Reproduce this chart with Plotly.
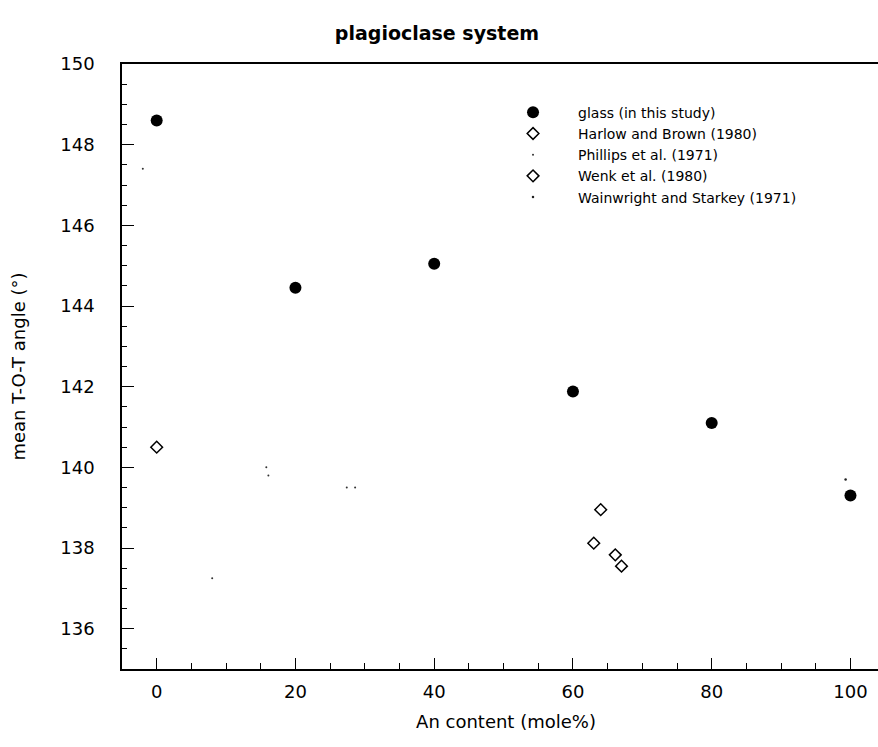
import plotly.graph_objects as go

# ---- data ----
glass_x = [0, 20, 40, 60, 80, 100]
glass_y = [148.6, 144.45, 145.05, 141.88, 141.1, 139.3]

harlow_x = [0]
harlow_y = [140.5]

phillips_x = [-2, 8, 15.8, 16.1, 27.4, 28.6]
phillips_y = [147.4, 137.25, 140.0, 139.8, 139.5, 139.5]

wenk_x = [64.0, 63.0, 66.1, 67.0]
wenk_y = [138.95, 138.12, 137.83, 137.55]

wainwright_x = [99.3]
wainwright_y = [139.7]

x_ticks = [0, 20, 40, 60, 80, 100]
y_ticks = [136, 138, 140, 142, 144, 146, 148, 150]

FONT = "DejaVu Sans, Liberation Sans, Arial, sans-serif"

fig = go.Figure()
fig.add_trace(go.Scatter(x=glass_x, y=glass_y, mode="markers", name="glass (in this study)",
                         marker=dict(symbol="circle", size=12, color="black")))
fig.add_trace(go.Scatter(x=harlow_x, y=harlow_y, mode="markers", name="Harlow and Brown (1980)",
                         marker=dict(symbol="diamond-open", size=9, color="black",
                                     line=dict(width=1.5, color="black"))))
fig.add_trace(go.Scatter(x=phillips_x, y=phillips_y, mode="markers", name="Phillips et al. (1971)",
                         marker=dict(symbol="circle", size=2, color="#333333")))
fig.add_trace(go.Scatter(x=wenk_x, y=wenk_y, mode="markers", name="Wenk et al. (1980)",
                         marker=dict(symbol="diamond-open", size=9, color="black",
                                     line=dict(width=1.5, color="black"))))
fig.add_trace(go.Scatter(x=wainwright_x, y=wainwright_y, mode="markers", name="Wainwright and Starkey (1971)",
                         marker=dict(symbol="circle", size=2.5, color="#222222",
                                     line=dict(width=0))))

# The figure is a little wider than the 878px window so that the plot box's
# right edge falls outside the view (the original shows no right-hand border).
fig.update_layout(
    width=890, height=747,
    paper_bgcolor="white", plot_bgcolor="white",
    margin=dict(l=122, r=0, t=64, b=78, autoexpand=False),
    font=dict(family=FONT, size=18, color="black"),
    title=dict(text="<b>plagioclase system</b>", x=0.491, xanchor="center", y=0.956, yanchor="middle",
               font=dict(family=FONT, size=19, color="black")),
    showlegend=True,
    legend=dict(x=0.4766, y=0.946, xanchor="left", yanchor="top",
                bgcolor="rgba(0,0,0,0)", borderwidth=0,
                font=dict(family=FONT, size=14, color="black"),
                itemwidth=80, tracegroupgap=0, itemsizing="trace"),
)

fig.update_xaxes(
    range=[-5, 105.7], showgrid=False, zeroline=False, automargin=False,
    showline=True, linecolor="black", linewidth=1.5, mirror=True,
    tickmode="array", tickvals=x_ticks, ticktext=[str(v) for v in x_ticks],
    ticks="inside", ticklen=11, tickwidth=1.2, tickcolor="black",
    minor=dict(ticks="inside", ticklen=6, tickwidth=1, tickcolor="black", dtick=5, tick0=0),
    ticklabelstandoff=6,
    title=dict(text="An content (mole%)", font=dict(size=18), standoff=14),
)
fig.update_yaxes(
    range=[135, 150], showgrid=False, zeroline=False, automargin=False,
    showline=True, linecolor="black", linewidth=1.5, mirror=False,
    tickmode="array", tickvals=y_ticks, ticktext=[str(v) for v in y_ticks],
    ticks="inside", ticklen=12, tickwidth=1.2, tickcolor="black",
    minor=dict(ticks="inside", ticklen=5, tickwidth=1, tickcolor="black", dtick=0.5, tick0=135),
    ticklabelstandoff=22,
    title=dict(text="mean T-O-T angle (°)", font=dict(size=18), standoff=30),
)

fig.write_html(
    "out.html",
    config={"displayModeBar": False},
    post_script="document.body.style.margin='0';document.body.style.overflow='hidden';",
)
